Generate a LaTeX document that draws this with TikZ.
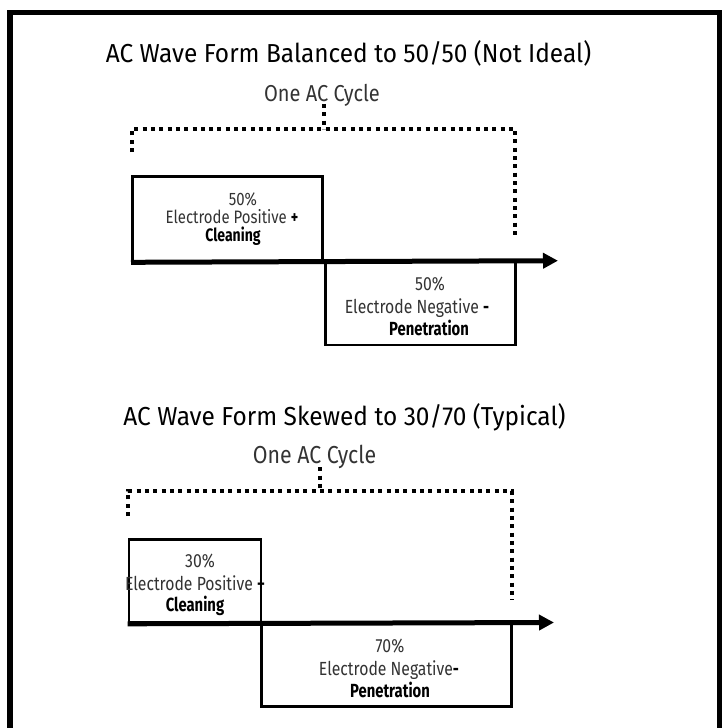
\documentclass[tikz,border=0pt]{standalone}
\usepackage{fontspec}
\setmainfont{Fira Sans}
\newfontfamily\titlefont[FakeStretch=0.94]{Fira Sans}
\newfontfamily\cycfont[FakeStretch=0.87]{Fira Sans}
\newfontfamily\lightfont[FakeStretch=0.83]{Fira Sans}
\newfontfamily\boldfont[FakeStretch=0.78]{Fira Sans}
\usetikzlibrary{arrows.meta}
\begin{document}
\begin{tikzpicture}[x=1pt,y=-1pt,
  frame/.style={line width=5.5pt},
  box/.style={draw, line width=2.6pt, rectangle, inner sep=0pt},
  axisline/.style={line width=5pt, -{Triangle[length=15pt,width=15pt]}},
  dots/.style={line width=4pt, dash pattern=on 4pt off 4.33pt},
  ttl/.style={anchor=base, inner sep=0pt, font=\titlefont\fontsize{26}{30}\selectfont},
  cyc/.style={anchor=base, inner sep=0pt, text=black!80, font=\cycfont\fontsize{23}{27}\selectfont},
  lbl/.style={anchor=base, inner sep=0pt, text=black!80, font=\lightfont\fontsize{19}{22}\selectfont},
  lblb/.style={anchor=base, inner sep=0pt, font=\boldfont\bfseries\fontsize{19}{22}\selectfont}
]
\useasboundingbox (0,0) rectangle (721,728);
% outer frame
\coordinate (fbl) at (10,740);
\coordinate (ftl) at (10,12.7);
\coordinate (ftr) at (720,12.7);
\coordinate (fbr) at (720,740);
\draw[frame] (fbl) -- (ftl) -- (ftr) -- (fbr);

% ---------- top diagram ----------
\node[ttl] (t1) at (348.5,62) {AC Wave Form Balanced to 50/50 (Not Ideal)};
\node[cyc] (c1) at (322,101) {One AC Cycle};
\coordinate (b1l) at (132.2,152);
\coordinate (b1tl) at (132.2,129);
\coordinate (b1tr) at (515.3,129);
\coordinate (b1r) at (515.3,236);
\coordinate (k1a) at (324,104);
\coordinate (k1b) at (324,129);
\draw[dots] (b1l) -- (b1tl) -- (b1tr) -- (b1r);
\draw[dots] (k1a) -- (k1b);

\node[box, minimum width=190pt, minimum height=84.3pt] (p1) at (227.3,218.85) {};
\node[box, minimum width=189.8pt, minimum height=84pt] (n1) at (420.4,303) {};
\coordinate (a1e) at (558,260.7);
\draw[axisline] (p1.south west) -- (a1e);

\node[lbl, font=\lightfont\fontsize{18}{21}\selectfont] (p1a) at (243,205) {50\%};
\node[lbl, font=\lightfont\fontsize{18}{21}\selectfont] (p1b) at (232,223.5) {Electrode Positive \textcolor{black}{\boldfont\bfseries +}};
\node[lblb, font=\boldfont\bfseries\fontsize{18}{21}\selectfont] (p1c) at (233,241.5) {Cleaning};

\node[lbl] (n1a) at (430,290) {50\%};
\node[lbl] (n1b) at (417,313) {Electrode Negative \textcolor{black}{\boldfont\bfseries -}};
\node[lblb] (n1c) at (429,335) {Penetration};

% ---------- bottom diagram ----------
\node[ttl] (t2) at (344.5,425) {AC Wave Form Skewed to 30/70 (Typical)};
\node[cyc, font=\cycfont\fontsize{24.5}{28}\selectfont] (c2) at (314.5,463) {One AC Cycle};
\coordinate (b2l) at (128.3,516);
\coordinate (b2tl) at (128.3,491);
\coordinate (b2tr) at (511.5,491);
\coordinate (b2r) at (511.5,600);
\coordinate (k2a) at (319.5,467.3);
\coordinate (k2b) at (319.5,491);
\draw[dots] (b2l) -- (b2tl) -- (b2tr) -- (b2r);
\draw[dots] (k2a) -- (k2b);

\node[box, minimum width=132pt, minimum height=82.8pt] (p2) at (195,581.1) {};
\node[box, minimum width=249.6pt, minimum height=84.2pt] (n2) at (386.5,664.6) {};
\coordinate (a2e) at (554,622.5);
\draw[axisline] (p2.south west) -- (a2e);

\node[lbl] (p2a) at (200,567) {30\%};
\node[lbl] (p2b) at (195,590) {Electrode Positive \textcolor{black}{\boldfont\bfseries +}};
\node[lblb] (p2c) at (195,611.5) {Cleaning};

\node[lbl] (n2a) at (390,652) {70\%};
\node[lbl] (n2b) at (389,675) {Electrode Negative\textcolor{black}{\boldfont\bfseries -}};
\node[lblb] (n2c) at (390,697) {Penetration};
\end{tikzpicture}
\end{document}
